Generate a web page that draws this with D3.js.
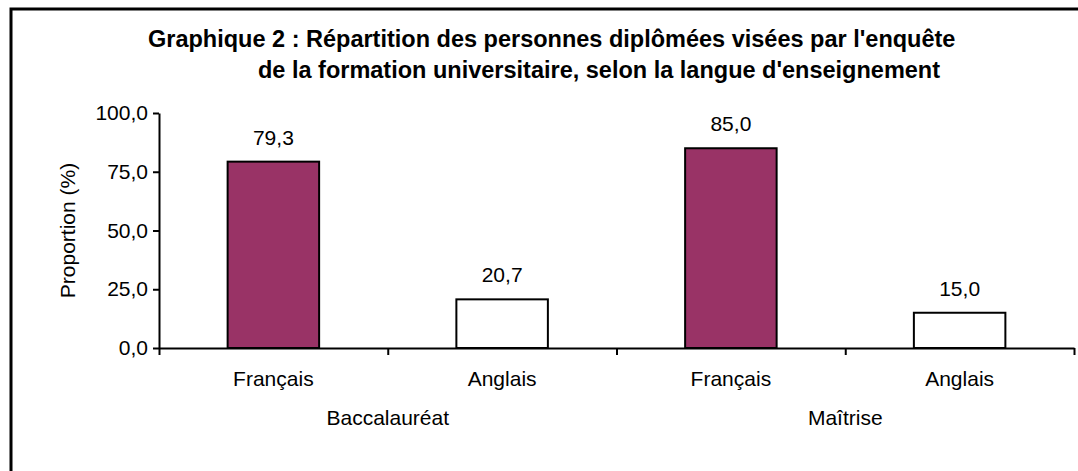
<!DOCTYPE html>
<html>
<head>
<meta charset="utf-8">
<script src="https://cdn.jsdelivr.net/npm/d3@7"></script>
<style>
  body { margin: 0; background: #fff; }
  svg { display: block; font-family: Arial, "Liberation Sans", sans-serif; }
</style>
</head>
<body>
<svg></svg>
<script>
var titleLines = ["Graphique 2 : Répartition des personnes diplômées visées par l'enquête",
                  "de la formation universitaire, selon la langue d'enseignement"];
var groups = ["Baccalauréat", "Maîtrise"];
var languages = ["Français", "Anglais", "Français", "Anglais"];
var values = [79.3, 20.7, 85.0, 15.0];
var yTicks = [0, 25, 50, 75, 100];

var width = 1078, height = 471;
var svg = d3.select("svg").attr("width", width).attr("height", height);

// frame (right and bottom edges fall outside the picture)
svg.append("rect")
   .attr("x", 11).attr("y", 9)
   .attr("width", 1200).attr("height", 600)
   .attr("fill", "none").attr("stroke", "#000").attr("stroke-width", 3);

var plotLeft = 159, plotRight = 1074, plotTop = 113, plotBottom = 348;

var x = d3.scaleBand()
          .domain(d3.range(values.length))
          .range([plotLeft, plotRight])
          .paddingInner(0.6)
          .paddingOuter(0.3);
var xTicks = d3.scaleLinear().domain([0, values.length]).range([plotLeft, plotRight]);
var y = d3.scaleLinear().domain([0, 100]).range([plotBottom, plotTop]);

var fmt = function(d){ return d3.format(".1f")(d).replace(".", ","); };

svg.selectAll("rect.bar")
   .data(values)
   .enter()
   .append("rect")
   .attr("class", "bar")
   .attr("x", function(d, i){ return x(i); })
   .attr("y", function(d){ return y(d); })
   .attr("width", x.bandwidth())
   .attr("height", function(d){ return plotBottom - y(d); })
   .attr("fill", function(d, i){ return languages[i] === "Français" ? "#993366" : "#fff"; })
   .attr("stroke", "#000")
   .attr("stroke-width", 2);

svg.selectAll("text.val")
   .data(values)
   .enter()
   .append("text")
   .attr("class", "val")
   .attr("x", function(d, i){ return x(i) + x.bandwidth() / 2; })
   .attr("y", function(d){ return y(d) - 17; })
   .attr("text-anchor", "middle")
   .attr("font-size", 21)
   .text(fmt);

var yAxis = d3.axisLeft(y).tickValues(yTicks).tickFormat(fmt).tickSize(6).tickSizeOuter(0).tickPadding(5);
var gy = svg.append("g").attr("transform", "translate(" + plotLeft + ",0)").call(yAxis);
gy.selectAll("text").attr("font-size", 21).attr("fill", "#000").attr("font-family", null);

var xAxis = d3.axisBottom(xTicks).tickValues(d3.range(values.length + 1)).tickFormat("").tickSize(7).tickSizeOuter(0);
var gx = svg.append("g").attr("transform", "translate(0," + plotBottom + ")").call(xAxis);

[gx, gy].forEach(function(g){
  g.attr("font-family", null);
  g.selectAll("path, line").attr("stroke", "#000").attr("stroke-width", 2);
});

svg.selectAll("text.lang")
   .data(languages)
   .enter()
   .append("text")
   .attr("class", "lang")
   .attr("x", function(d, i){ return x(i) + x.bandwidth() / 2; })
   .attr("y", 386)
   .attr("text-anchor", "middle")
   .attr("font-size", 21)
   .text(function(d){ return d; });

svg.selectAll("text.grp")
   .data(groups)
   .enter()
   .append("text")
   .attr("class", "grp")
   .attr("x", function(d, i){ return xTicks(i * 2 + 1); })
   .attr("y", 425)
   .attr("text-anchor", "middle")
   .attr("font-size", 21)
   .text(function(d){ return d; });

svg.append("text")
   .attr("transform", "translate(75," + ((plotTop + plotBottom) / 2) + ") rotate(-90)")
   .attr("text-anchor", "middle")
   .attr("font-size", 21)
   .text("Proportion (%)");

svg.append("text").attr("x", 148).attr("y", 47).attr("font-size", 23.5).attr("font-weight", "bold").text(titleLines[0]);
svg.append("text").attr("x", 258).attr("y", 78).attr("font-size", 23.5).attr("font-weight", "bold").text(titleLines[1]);
</script>
</body>
</html>
